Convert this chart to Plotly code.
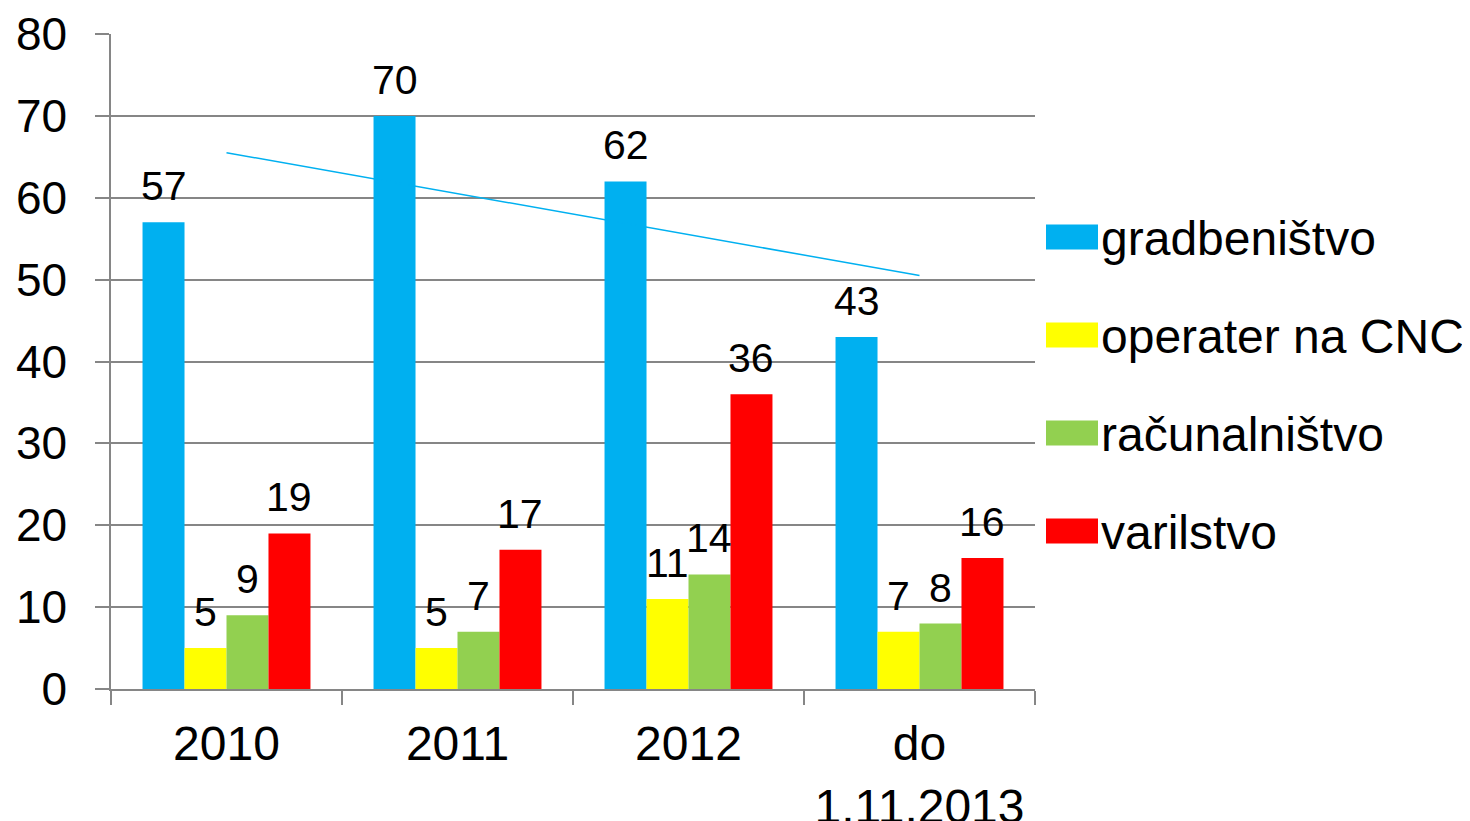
import numpy as np
import plotly.graph_objects as go

# ---- data ----
categories = ["2010", "2011", "2012", "do<br>1.11.2013"]
series_names = ["gradbeništvo", "operater na CNC", "računalništvo", "varilstvo"]
gradbenistvo = [57, 70, 62, 43]
operater_cnc = [5, 5, 11, 7]
racunalnistvo = [9, 7, 14, 8]
varilstvo = [19, 17, 36, 16]
series_values = [gradbenistvo, operater_cnc, racunalnistvo, varilstvo]
colors = ["#00B0F0", "#FFFF00", "#92D050", "#FF0000"]
y_ticks = [0, 10, 20, 30, 40, 50, 60, 70, 80]

# ---- layout geometry (page has an 8px body margin) ----
OFF = 8
W, H = 1470 - OFF, 821 - OFF
ML, MR, MT, MB = 111 - OFF, 435, 34 - OFF, 132
PW, PH = W - ML - MR, H - MT - MB
FONT = "Liberation Sans, Arial, sans-serif"
GRID = "#868686"
BARGAP = 0.273
n_series = len(series_names)
bar_px = PW / len(categories) * (1 - BARGAP) / n_series

fig = go.Figure()
for s, (name, vals, col) in enumerate(zip(series_names, series_values, colors)):
    fig.add_trace(go.Bar(
        x=categories, y=vals, name=name, marker=dict(color=col, line=dict(width=0)),
        showlegend=False,
    ))
    # value labels above each bar
    off = (s - (n_series - 1) / 2) * bar_px
    for ci, v in enumerate(vals):
        fig.add_annotation(x=ci, y=v, xref="x", yref="y", text=str(v), showarrow=False,
                           xanchor="center", yanchor="bottom", xshift=off, yshift=11,
                           font=dict(size=41, color="black", family=FONT))

# linear trendline for gradbeništvo
xi = np.arange(len(categories))
slope, intercept = np.polyfit(xi, gradbenistvo, 1)
trend = slope * xi + intercept
fig.add_trace(go.Scatter(
    x=categories, y=trend, mode="lines", line=dict(color="#00B0F0", width=1.5),
    showlegend=False, hoverinfo="skip",
))

# manual legend (swatches + real text), positions given in page pixels
def px_x(px):
    return (px - OFF - ML) / PW

def px_y(py):
    return (OFF + H - MB - py) / PH

leg_top = 237
leg_step = 98
for i, (name, col) in enumerate(zip(series_names, colors)):
    cy = leg_top + i * leg_step
    fig.add_shape(type="rect", xref="paper", yref="paper",
                  x0=px_x(1046), x1=px_x(1098), y0=px_y(cy - 12.5), y1=px_y(cy + 12.5),
                  fillcolor=col, line=dict(width=0))
    fig.add_annotation(xref="paper", yref="paper", x=px_x(1099), y=px_y(cy + 1),
                       xanchor="left", yanchor="middle", showarrow=False, text=name,
                       font=dict(size=48, color="black", family=FONT))

fig.update_layout(
    width=W, height=H,
    margin=dict(l=ML, r=MR, t=MT, b=MB, pad=0),
    paper_bgcolor="white", plot_bgcolor="white",
    barmode="group", bargap=BARGAP, bargroupgap=0,
    showlegend=False,
    font=dict(family=FONT, color="black"),
    xaxis=dict(
        type="category", categoryorder="array", categoryarray=categories,
        tickson="boundaries", ticks="outside", ticklen=14, tickwidth=1.5,
        tickcolor=GRID, showline=True, linecolor=GRID, linewidth=1.5, showgrid=False,
        tickfont=dict(size=48, family=FONT, color="black"), ticklabelstandoff=12,
        tickangle=0, range=[-0.5, len(categories) - 0.5], automargin=False,
    ),
    yaxis=dict(
        range=[0, 80], tickvals=y_ticks, ticks="outside", ticklen=14, tickwidth=1.5,
        tickcolor=GRID, showline=True, linecolor=GRID, linewidth=1.5,
        showgrid=True, gridcolor=GRID, gridwidth=1.5, zeroline=False,
        tickfont=dict(size=46, family=FONT, color="black"), ticklabelstandoff=19,
        automargin=False,
    ),
)

fig.write_html("out.html")
